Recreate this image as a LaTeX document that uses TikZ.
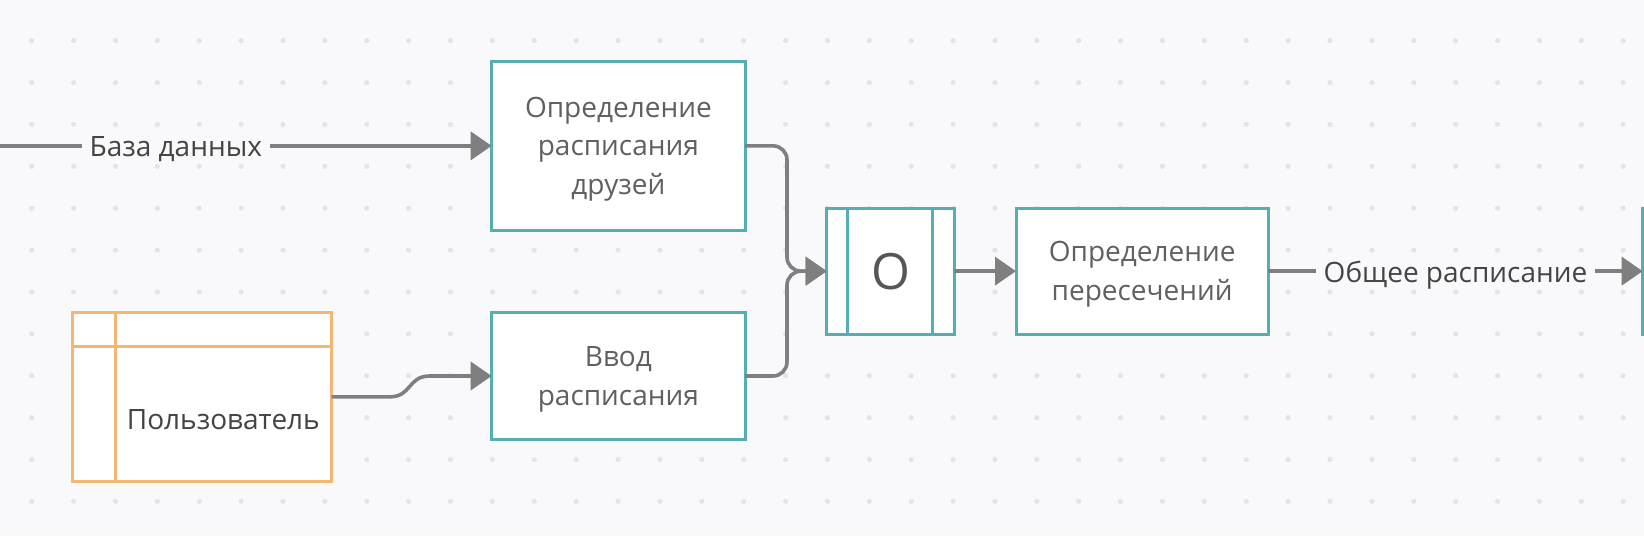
\documentclass[tikz,border=0pt]{standalone}
\usepackage{fontspec}
\setmainfont{Open Sans}
\usetikzlibrary{arrows.meta,calc}
\definecolor{bgc}{HTML}{F9F9FB}
\definecolor{dotc}{HTML}{E4E4E8}
\definecolor{teal}{HTML}{57AEB0}
\definecolor{orng}{HTML}{F2B872}
\definecolor{conc}{HTML}{7F7F7F}
\definecolor{boxtxt}{HTML}{606060}
\definecolor{lbltxt}{HTML}{444444}
\tikzset{
  procbox/.style={draw=teal, line width=3pt, fill=white, inner sep=0pt, outer sep=0pt,
    text=boxtxt, align=center, font=\fontsize{28}{38.5}\selectfont,
    text depth=0pt},
  conn/.style={draw=conc, line width=3.6pt, -{Triangle[length=21pt,width=28pt]}},
  lbl/.style={fill=bgc, text=lbltxt, inner xsep=8pt, inner ysep=2pt,
    font=\fontsize{28}{38.5}\selectfont, text height=20pt, text depth=0pt},
}
\begin{document}
\begin{tikzpicture}[x=1pt,y=-1pt]
\useasboundingbox (0,0) rectangle (1644,536);
\clip (0,0) rectangle (1644,536);
\fill[bgc] (0,0) rectangle (1644,536);
\foreach \i in {0,...,39} {
  \foreach \j in {0,...,11} {
    \fill[dotc] (31.7+\i*41.88, 40.7+\j*41.88) circle (2.6pt);
  }
}
% process boxes
\node[procbox, minimum width=253.3pt, minimum height=168.3pt, text height=97pt] (A) at (618.35,145.85)
  {Определение\\расписания\\друзей};
\node[procbox, minimum width=253.3pt, minimum height=126.6pt, text height=58.5pt] (B) at (618.35,376)
  {Ввод\\расписания};
\node[procbox, minimum width=127.6pt, minimum height=125.7pt,
  font=\fontsize{50}{60}\selectfont, text=boxtxt!90!black, text height=36pt] (O) at (890.5,271.15) {O};
\draw[teal, line width=3pt] ([xshift=21pt]O.north west) -- ([xshift=21pt]O.south west);
\draw[teal, line width=3pt] ([xshift=-22pt]O.north east) -- ([xshift=-22pt]O.south east);
\node[procbox, minimum width=252.3pt, minimum height=125.7pt, text height=58.5pt] (C) at (1142.15,271.15)
  {Определение\\пересечений};
\node[procbox, minimum width=250pt, minimum height=125.7pt, anchor=west] (D) at (1642.7,271.15) {};
% user (external entity)
\node[draw=orng, line width=3pt, fill=white, inner sep=0pt, outer sep=0pt,
  minimum width=259pt, minimum height=168.3pt] (U) at (202.2,396.85) {};
\draw[orng, line width=3pt] ([xshift=42.3pt]U.north west) -- ([xshift=42.3pt]U.south west);
\draw[orng, line width=3pt] ([yshift=-34pt]U.north west) -- ([yshift=-34pt]U.north east);
\node[text=lbltxt, font=\fontsize{28}{38.5}\selectfont, text height=20pt, text depth=0pt,
  inner sep=0pt] (ut) at (223.3,419.5) {Пользователь};
% connectors
\coordinate (src) at (-140,145.85);
\draw[conn] (src) -- node[lbl, yshift=-1pt] (l1) {База данных} (A.west);
\draw[conn, rounded corners=14pt] (A.east) -- ++(42,0) |- (O.west);
\draw[conn, rounded corners=14pt] (B.east) -- ++(42,0) |- (O.west);
\draw[conn] (O.east) -- (C.west);
\draw[conn] (C.east) -- node[lbl, yshift=-1pt] (l2) {Общее расписание} (D.west);
\coordinate (k1) at ($(U.east)+(58,0)$);
\coordinate (k2) at ($(B.west)+(-62,0)$);
\draw[conn] (U.east) -- (k1) .. controls +(22,0) and +(-22,0) .. (k2) -- (B.west);
\end{tikzpicture}
\end{document}
